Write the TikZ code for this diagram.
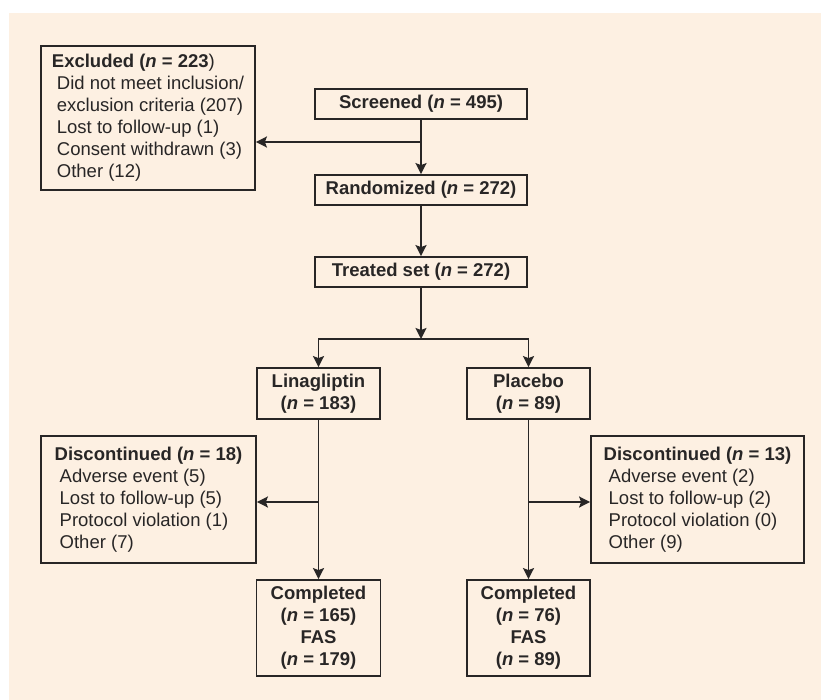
\documentclass[tikz,border=0pt]{standalone}
\usepackage{fontspec}
\setmainfont{Liberation Sans}
\usepackage{tikz}
\usetikzlibrary{arrows.meta,positioning,calc}
\definecolor{bgbeige}{RGB}{253,240,226}
\definecolor{inkgray}{RGB}{40,38,38}
\newcommand{\flowfont}{\fontsize{18.5bp}{22bp}\selectfont}
\tikzset{
  flowbox/.style={draw=inkgray, line width=1.8bp, inner sep=0pt, align=center, font=\flowfont\bfseries},
  listbox/.style={draw=inkgray, line width=1.8bp, inner sep=0pt, align=left, font=\flowfont},
  flowarrow/.style={draw=inkgray, line width=1.8bp, -{Stealth[length=11bp,width=11bp,inset=2bp]}}
}

\begin{document}
\begin{tikzpicture}[x=1bp,y=-1bp, text=inkgray]
    \useasboundingbox (0,0) rectangle (821,700);
    \fill [bgbeige] (9,13) rectangle (821,700);

    \node [listbox, minimum width=214bp, minimum height=144bp] (excl) at (148,118)
      {\textbf{Excluded (\textit{n} = 223})\\
       \hspace*{5bp}Did not meet inclusion/\\
       \hspace*{5bp}exclusion criteria (207)\\
       \hspace*{5bp}Lost to follow-up (1)\\
       \hspace*{5bp}Consent withdrawn (3)\\
       \hspace*{5bp}Other (12)};
    \node [flowbox, minimum width=212bp, minimum height=30bp] (scr) at (421,104) {Screened (\textit{n} = 495)};
    \node [flowbox, minimum width=212bp, minimum height=30bp] (rand) at (421,190) {Randomized (\textit{n} = 272)};
    \node [flowbox, minimum width=212bp, minimum height=30bp] (treat) at (421,272) {Treated set (\textit{n} = 272)};
    \node [flowbox, minimum width=123bp, minimum height=51bp] (lina) at (318.5,393.5) {Linagliptin\\(\textit{n} = 183)};
    \node [flowbox, minimum width=123bp, minimum height=51bp] (plac) at (528.5,393.5) {Placebo\\(\textit{n} = 89)};
    \node [listbox, minimum width=215bp, minimum height=127bp] (discl) at (148.5,499.5)
      {\textbf{Discontinued (\textit{n} = 18)}\\
       \hspace*{5bp}Adverse event (5)\\
       \hspace*{5bp}Lost to follow-up (5)\\
       \hspace*{5bp}Protocol violation (1)\\
       \hspace*{5bp}Other (7)};
    \node [listbox, minimum width=213bp, minimum height=127bp] (discr) at (697.5,499.5)
      {\textbf{Discontinued (\textit{n} = 13)}\\
       \hspace*{5bp}Adverse event (2)\\
       \hspace*{5bp}Lost to follow-up (2)\\
       \hspace*{5bp}Protocol violation (0)\\
       \hspace*{5bp}Other (9)};
    \node [flowbox, minimum width=124bp, minimum height=96bp] (compl) at (318.5,628) {Completed\\(\textit{n} = 165)\\FAS\\(\textit{n} = 179)};
    \node [flowbox, minimum width=123bp, minimum height=96bp] (compr) at (528.5,628) {Completed\\(\textit{n} = 76)\\FAS\\(\textit{n} = 89)};

    \coordinate (j1) at (421,142);
    \coordinate (j2) at (421,339);
    \coordinate (j3) at (318.5,502);
    \coordinate (j4) at (528.5,502);

    \draw [flowarrow] (scr) -- (rand);
    \draw [flowarrow] (j1) -- (excl.east |- j1);
    \draw [flowarrow] (rand) -- (treat);
    \draw [flowarrow] (treat) -- (j2);
    \draw [flowarrow] (j2) -| (lina.north);
    \draw [flowarrow] (j2) -| (plac.north);
    \draw [flowarrow] (lina) -- (compl);
    \draw [flowarrow] (j3) -- (discl.east |- j3);
    \draw [flowarrow] (plac) -- (compr);
    \draw [flowarrow] (j4) -- (discr.west |- j4);
  \end{tikzpicture}
\end{document}
